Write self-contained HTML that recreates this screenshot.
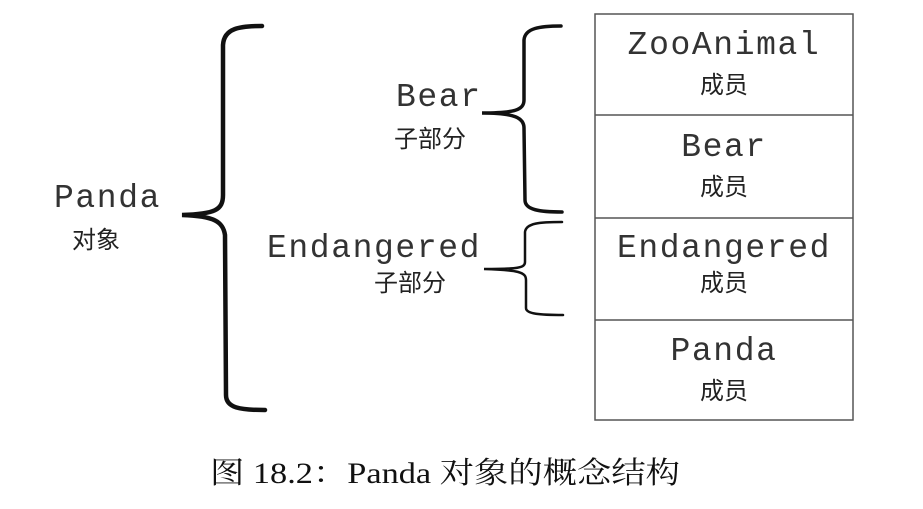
<!DOCTYPE html>
<html><head><meta charset="utf-8"><style>
html,body{margin:0;padding:0;background:#fff;}
svg{display:block;}
.m{font-family:"Liberation Mono","Courier New",monospace;font-size:33px;letter-spacing:1.6px;fill:#333;}
.c{font-family:"Liberation Sans","Noto Sans CJK SC",sans-serif;font-size:24px;fill:#222;}
.cap{font-family:"Liberation Serif","Noto Serif CJK SC",serif;font-size:30px;fill:#111;}
</style></head><body>
<svg width="923" height="509" viewBox="0 0 923 509" xmlns="http://www.w3.org/2000/svg">
<g fill="none" stroke="#111" stroke-linecap="round">
<path d="M262 26 C240 26 224 28 223 45 L223 195 C223 210 215 214 182 215 C215 216 223 222 225 235 L226 395 C226 408 240 410 265 410" stroke-width="4.5"/>
<path d="M561 26 C540 26 525 28 524 40 L524 100 C524 110 515 113 482 113 C515 113 524 118 524 128 L525 200 C525 210 540 212 562 212" stroke-width="3.5"/>
<path d="M562 222 C540 222 526 223 525 232 L525 262 C525 268 518 269 484 269 C518 270 526 272 526 280 L526 308 C526 314 540 315 563 315" stroke-width="2.5"/>
</g>
<g fill="none" stroke="#555" stroke-width="1.5">
<rect x="595" y="14" width="258" height="406"/>
<line x1="595" y1="115" x2="853" y2="115"/>
<line x1="595" y1="218" x2="853" y2="218"/>
<line x1="595" y1="320" x2="853" y2="320"/>
</g>
<text class="m" x="54" y="207">Panda</text>
<text class="c" x="72" y="248">对象</text>
<text class="m" x="396" y="106">Bear</text>
<text class="c" x="394" y="147">子部分</text>
<text class="m" x="267" y="257">Endangered</text>
<text class="c" x="374" y="291">子部分</text>
<g text-anchor="middle">
<text class="m" x="724" y="54">ZooAnimal</text>
<text class="c" x="724" y="93">成员</text>
<text class="m" x="724" y="156">Bear</text>
<text class="c" x="724" y="195">成员</text>
<text class="m" x="724" y="257">Endangered</text>
<text class="c" x="724" y="291">成员</text>
<text class="m" x="724" y="360">Panda</text>
<text class="c" x="724" y="399">成员</text>
</g>
<text class="cap" x="210" y="483" textLength="470" lengthAdjust="spacingAndGlyphs">图 18.2：Panda 对象的概念结构</text>
</svg>
</body></html>
